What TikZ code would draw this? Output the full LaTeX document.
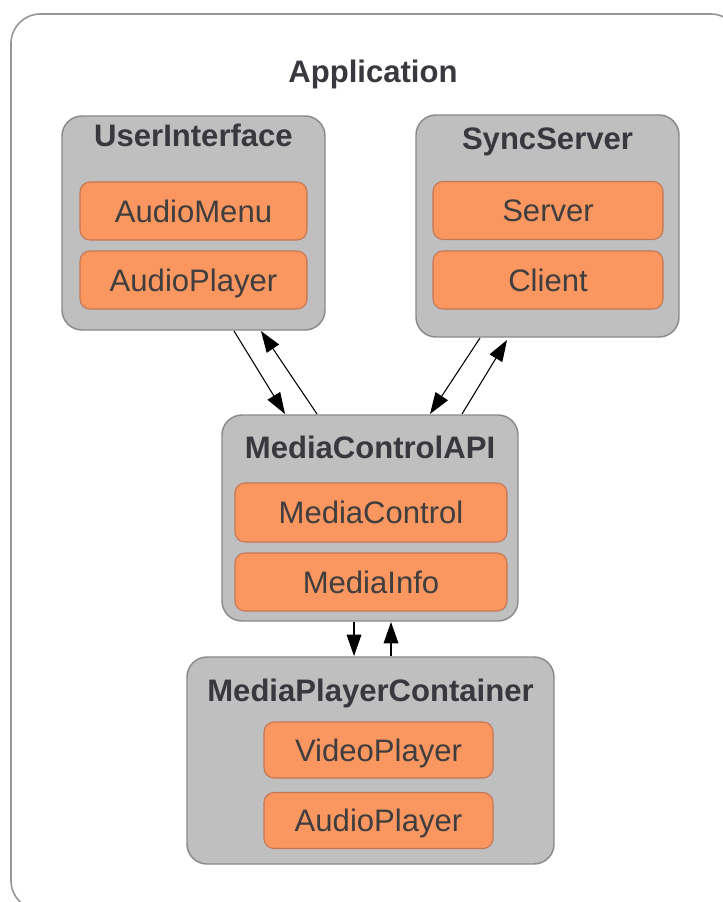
\documentclass[tikz,border=0pt]{standalone}
\usepackage{fontspec}
\setmainfont{Liberation Sans}
\usetikzlibrary{arrows.meta,calc}
\newlength\pxu
\setlength\pxu{0.75pt}
\definecolor{framegray}{RGB}{150,150,150}
\definecolor{boxgray}{RGB}{191,191,191}
\definecolor{boxedge}{RGB}{138,138,138}
\definecolor{partfill}{RGB}{250,150,96}
\definecolor{partedge}{RGB}{196,118,82}
\definecolor{titleink}{RGB}{56,56,62}
\definecolor{partink}{RGB}{62,62,62}
\begin{document}
\begin{tikzpicture}[x=0.75pt,y=-0.75pt,
  bigfont/.style={font=\fontsize{23.3pt}{28pt}\selectfont},
  container/.style={draw=boxedge,line width=1.1pt,fill=boxgray,
    rounded corners=15pt,inner sep=0pt,outer sep=0pt},
  part/.style={draw=partedge,line width=0.8pt,fill=partfill,
    rounded corners=7.5pt,inner sep=0pt,outer sep=0pt,
    bigfont,text=partink,text height=16.6pt,text depth=0pt},
  heading/.style={bigfont,font=\fontsize{23.3pt}{28pt}\selectfont\bfseries,
    text=titleink,anchor=base,inner sep=0pt},
  conn/.style={draw=black,line width=0.8pt,
    -{Triangle[length=16pt,width=11pt]}}]
\useasboundingbox (0,0) rectangle (723,902);
\fill[white] (0,0) rectangle (723,902);

% application frame
\draw[framegray,line width=1.2pt,rounded corners=22pt] (11,14) rectangle (740,910);
\node[heading] (app) at (373,83) {Application};

% UserInterface
\node[container,minimum width=263\pxu,minimum height=214\pxu] (ui) at (193.5,223) {};
\node[heading] (uit) at (193.5,147) {UserInterface};
\node[part,minimum width=227\pxu,minimum height=58\pxu] (amenu) at (193.5,211) {AudioMenu};
\node[part,minimum width=227\pxu,minimum height=58\pxu] (aplay) at (193.5,280) {AudioPlayer};

% SyncServer
\node[container,minimum width=263\pxu,minimum height=222\pxu] (ss) at (547.5,226) {};
\node[heading] (sst) at (547.5,150) {SyncServer};
\node[part,minimum width=230\pxu,minimum height=58\pxu] (server) at (548,210.5) {Server};
\node[part,minimum width=230\pxu,minimum height=58\pxu] (client) at (548,280) {Client};

% MediaControlAPI
\node[container,minimum width=296\pxu,minimum height=206\pxu] (mc) at (370,518) {};
\node[heading] (mct) at (370,458) {MediaControlAPI};
\node[part,minimum width=272\pxu,minimum height=59\pxu] (mctrl) at (371,512.5) {MediaControl};
\node[part,minimum width=272\pxu,minimum height=58\pxu] (minfo) at (371,582) {MediaInfo};

% MediaPlayerContainer
\node[container,minimum width=367\pxu,minimum height=207\pxu] (mpc) at (370.5,760.5) {};
\node[heading] (mpct) at (370.5,701) {MediaPlayerContainer};
\node[part,minimum width=229\pxu,minimum height=56\pxu] (vplay) at (378.5,750) {VideoPlayer};
\node[part,minimum width=229\pxu,minimum height=56\pxu] (aplay2) at (378.5,820.5) {AudioPlayer};

% calls between the components
\draw[conn] ($(ui.south)+(40.5,1)$) -- ($(mc.north)+(-85,-1)$);
\draw[conn] ($(mc.north)+(-53,-1)$) -- ($(ui.south)+(67.5,1)$);
\draw[conn] ($(ss.south)+(-67.5,1)$) -- ($(mc.north)+(60,-1)$);
\draw[conn] ($(mc.north)+(92,-1)$) -- ($(ss.south)+(-40.5,3)$);
\draw[conn] ($(mc.south)+(-16,1)$) -- ($(mpc.north)+(-16.5,-1)$);
\draw[conn] ($(mpc.north)+(20.5,-1)$) -- ($(mc.south)+(21,1)$);
\end{tikzpicture}
\end{document}
